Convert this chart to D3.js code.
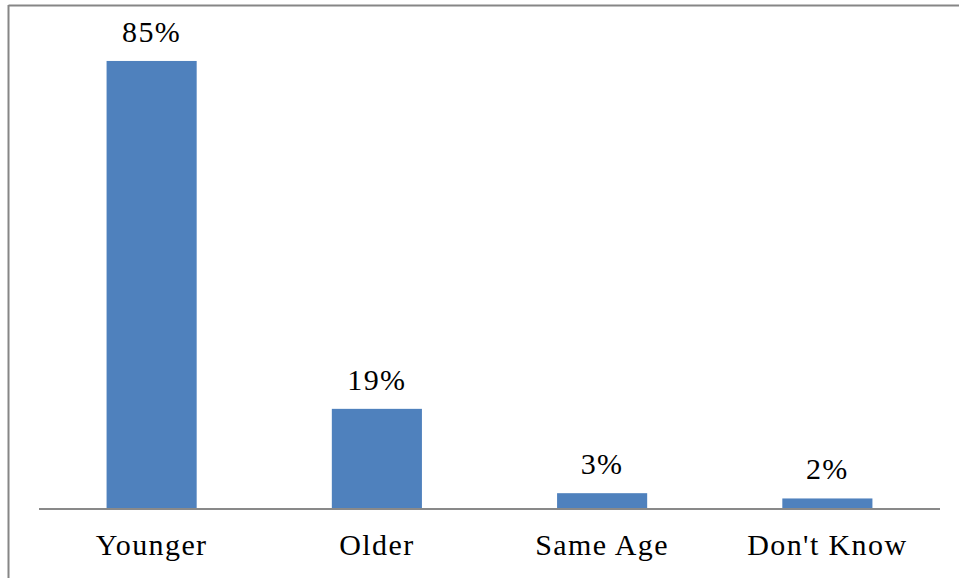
<!DOCTYPE html>
<html>
<head>
<meta charset="utf-8">
<script src="https://cdn.jsdelivr.net/npm/d3@7"></script>
<style>
  html, body { margin: 0; padding: 0; background: #fff; }
</style>
</head>
<body>
<svg id="c" width="959" height="578"></svg>
<script>
// Survey answers and their shares (percent)
const categories = ["Younger", "Older", "Same Age", "Don't Know"];
const values = [85, 19, 3, 2];
const valueLabels = ["85%", "19%", "3%", "2%"];

const svg = d3.select("#c");
const W = 959, H = 578;

// Shared text styling for value and category labels
function serifText(sel) {
  return sel
    .style("font-family", "Liberation Serif")
    .style("font-size", "30px")
    .style("letter-spacing", "1.4px")
    .attr("fill", "#000");
}

// Outer frame (top and left edges)
svg.append("line").attr("x1", 8.5).attr("x2", W).attr("y1", 5.5).attr("y2", 5.5)
  .attr("stroke", "#868686").attr("stroke-width", 2);
svg.append("line").attr("x1", 8.5).attr("x2", 8.5).attr("y1", 5).attr("y2", H)
  .attr("stroke", "#868686").attr("stroke-width", 2);

const x = d3.scaleBand()
  .domain(categories)
  .range([39, 940])
  .paddingInner(0.6)
  .paddingOuter(0.3);

const y = d3.scaleLinear()
  .domain([0, 90])
  .range([509, 34.6]);

const data = categories.map((c, i) => ({ c, v: values[i], label: valueLabels[i] }));

// Bars
svg.selectAll("rect.bar")
  .data(data)
  .join("rect")
  .attr("class", "bar")
  .attr("x", d => x(d.c))
  .attr("width", x.bandwidth())
  .attr("y", d => y(d.v))
  .attr("height", d => y(0) - y(d.v))
  .attr("fill", "#4F81BD");

// Category axis line (labels are drawn separately below)
const xAxis = svg.append("g")
  .attr("transform", `translate(0, ${y(0)})`)
  .call(d3.axisBottom(x).tickSize(0).tickFormat(""));
xAxis.selectAll(".tick").remove();
xAxis.select(".domain").attr("stroke", "#898989").attr("stroke-width", 2)
  .attr("d", "M39,0H940");

// Value labels above bars
svg.selectAll("text.val")
  .data(data)
  .join("text")
  .attr("class", "val")
  .attr("x", d => x(d.c) + x.bandwidth() / 2)
  .attr("y", d => y(d.v) - 19)
  .attr("text-anchor", "middle")
  .call(serifText)
  .text(d => d.label);

// Category labels under the baseline
svg.selectAll("text.cat")
  .data(data)
  .join("text")
  .attr("class", "cat")
  .attr("x", d => x(d.c) + x.bandwidth() / 2)
  .attr("y", y(0) + 46)
  .attr("text-anchor", "middle")
  .call(serifText)
  .text(d => d.c);
</script>
</body>
</html>
